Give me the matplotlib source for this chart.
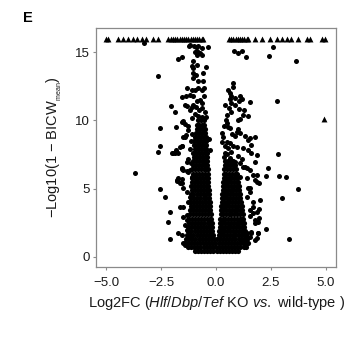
import numpy as np
import matplotlib
matplotlib.use("Agg")
import matplotlib.pyplot as plt

plt.rcParams["font.family"] = ["Liberation Sans", "DejaVu Sans"]
plt.rcParams["mathtext.fontset"] = "custom"
plt.rcParams["mathtext.rm"] = "Liberation Sans"
plt.rcParams["mathtext.it"] = "Liberation Sans:italic"

# capped points (drawn as triangles at the top of the plot)
tri_x = [-5.01, -4.9, -4.45, -4.22, -3.99, -3.76, -3.58, -3.38, -3.2, -2.85, -2.63,
         -2.17, -2.05, -1.95, -1.85, -1.75, -1.65, -1.55, -1.45, -1.35, -1.25, -1.15,
         -1.05, -0.95, -0.85, -0.75, -0.65, -0.58,
         0.61, 0.7, 0.8, 0.9, 1.0, 1.1, 1.2, 1.3, 1.4, 1.47,
         1.78, 2.08, 2.46, 2.76, 2.99, 3.22, 3.44, 3.75, 4.13, 4.28, 4.81, 4.96, 4.93]
tri_y = [16.0] * 50 + [10.09]

# dense core, left lobe: one y per row, x values along the row
left_y = [10.0, 9.7, 9.4, 9.1, 8.8, 8.5, 8.2, 7.9, 7.6, 7.3, 7.0, 6.7, 6.4, 6.1, 5.8,
          5.5, 5.2, 4.9, 4.6, 4.3, 4.0, 3.7, 3.4, 3.1, 2.8, 2.5, 2.2, 1.9, 1.6]
left_x = [
    [-0.82, -0.68, -0.55],
    [-0.88, -0.75, -0.62, -0.52],
    [-0.85, -0.71, -0.57, -0.5],
    [-0.92, -0.78, -0.64, -0.5],
    [-0.95, -0.82, -0.68, -0.55, -0.47],
    [-0.98, -0.85, -0.72, -0.6, -0.46],
    [-1.0, -0.88, -0.76, -0.62, -0.48, -0.44],
    [-0.95, -0.82, -0.68, -0.55, -0.43],
    [-1.02, -0.9, -0.76, -0.62, -0.5, -0.42],
    [-1.0, -0.86, -0.72, -0.58, -0.45, -0.41],
    [-1.05, -0.92, -0.78, -0.65, -0.52, -0.4],
    [-1.04, -0.9, -0.76, -0.62, -0.5, -0.39],
    [-1.08, -0.95, -0.82, -0.68, -0.55, -0.43, -0.38],
    [-1.05, -0.92, -0.78, -0.64, -0.5, -0.37],
    [-1.1, -0.97, -0.84, -0.7, -0.57, -0.44, -0.36],
    [-1.08, -0.94, -0.8, -0.66, -0.52, -0.4, -0.35],
    [-1.12, -0.99, -0.86, -0.72, -0.58, -0.45, -0.34],
    [-1.1, -0.96, -0.82, -0.68, -0.55, -0.42, -0.33],
    [-1.15, -1.02, -0.88, -0.74, -0.6, -0.46, -0.32],
    [-1.12, -0.98, -0.84, -0.7, -0.56, -0.43, -0.3],
    [-1.18, -1.04, -0.9, -0.76, -0.62, -0.48, -0.35, -0.28],
    [-1.15, -1.01, -0.87, -0.73, -0.59, -0.45, -0.32, -0.27],
    [-1.2, -1.06, -0.92, -0.78, -0.64, -0.5, -0.37, -0.25],
    [-1.18, -1.04, -0.9, -0.76, -0.62, -0.48, -0.34, -0.23],
    [-1.24, -1.1, -0.96, -0.82, -0.68, -0.54, -0.4, -0.28, -0.21],
    [-1.22, -1.08, -0.94, -0.8, -0.66, -0.52, -0.38, -0.26, -0.19],
    [-1.27, -1.13, -0.99, -0.85, -0.71, -0.57, -0.43, -0.3, -0.17],
    [-1.25, -1.11, -0.97, -0.83, -0.69, -0.55, -0.41, -0.28, -0.16],
    [-1.3, -1.16, -1.02, -0.88, -0.74, -0.6, -0.46, -0.32, -0.2, -0.12],
]

# dense core, right lobe
right_y = [7.0, 6.7, 6.4, 6.1, 5.8, 5.5, 5.2, 4.9, 4.6, 4.3, 4.0, 3.7, 3.4, 3.1, 2.8,
           2.5, 2.2, 1.9, 1.6]
right_x = [
    [0.42, 0.55, 0.68, 0.8],
    [0.4, 0.52, 0.65, 0.78, 0.86],
    [0.38, 0.5, 0.63, 0.76, 0.9],
    [0.37, 0.48, 0.6, 0.73, 0.86, 0.95],
    [0.35, 0.46, 0.58, 0.71, 0.84, 0.98],
    [0.33, 0.45, 0.57, 0.7, 0.83, 0.96, 1.02],
    [0.32, 0.43, 0.55, 0.68, 0.81, 0.94, 1.05],
    [0.31, 0.42, 0.54, 0.67, 0.8, 0.93, 1.06],
    [0.29, 0.4, 0.52, 0.65, 0.78, 0.91, 1.04, 1.1],
    [0.28, 0.39, 0.51, 0.64, 0.77, 0.9, 1.03, 1.12],
    [0.26, 0.37, 0.49, 0.62, 0.75, 0.88, 1.01, 1.14],
    [0.25, 0.36, 0.48, 0.61, 0.74, 0.87, 1.0, 1.13, 1.17],
    [0.23, 0.34, 0.46, 0.59, 0.72, 0.85, 0.98, 1.11, 1.2],
    [0.22, 0.33, 0.45, 0.58, 0.71, 0.84, 0.97, 1.1, 1.22],
    [0.2, 0.31, 0.43, 0.56, 0.69, 0.82, 0.95, 1.08, 1.21, 1.25],
    [0.19, 0.3, 0.42, 0.55, 0.68, 0.81, 0.94, 1.07, 1.2, 1.28],
    [0.17, 0.28, 0.4, 0.53, 0.66, 0.79, 0.92, 1.05, 1.18, 1.3],
    [0.16, 0.27, 0.39, 0.52, 0.65, 0.78, 0.91, 1.04, 1.17, 1.3, 1.34],
    [0.13, 0.25, 0.37, 0.5, 0.63, 0.76, 0.89, 1.02, 1.15, 1.28, 1.36],
]

# dense core, base
base_y = [1.3, 1.0, 0.7, 0.45]
base_x = [
    [-1.35, -1.21, -1.07, -0.93, -0.79, -0.65, -0.51, -0.37, -0.23, -0.09, 0.05, 0.19,
     0.33, 0.47, 0.61, 0.75, 0.89, 1.03, 1.17, 1.31, 1.4],
    [-1.4, -1.27, -1.14, -1.0, -0.86, -0.72, -0.58, -0.44, -0.3, -0.16, -0.02, 0.12,
     0.26, 0.4, 0.54, 0.68, 0.82, 0.96, 1.1, 1.24, 1.38, 1.45],
    [-1.25, -1.12, -0.98, -0.84, -0.7, -0.56, -0.42, -0.28, -0.14, 0.0, 0.14, 0.28,
     0.42, 0.56, 0.7, 0.84, 0.98, 1.12, 1.26, 1.35],
    [-0.95, -0.81, -0.67, -0.53, -0.39, -0.25, -0.11, 0.03, 0.17, 0.31, 0.45, 0.59,
     0.73, 0.87, 1.0],
]

# scattered genes around the core
dots_x = [
    -3.26, -2.62, -3.66, -2.55, -2.55, -2.65, -2.55, -2.31, -2.09, -2.17, -2.09, -2.02,
    -1.87, -1.82, -1.99, -1.85, -1.56, -1.41, -1.72, -1.52, -1.49, -1.26,
    -1.82, -1.94, -1.72, -1.64, -1.52, -1.37, -1.49, -1.52, -1.41, -1.33, -1.1, -1.52,
    -1.33, -1.18, -1.72, -1.52, -1.56, -1.26, -1.49, -1.33, -1.1, -1.76, -1.64, -1.79,
    -1.56, -1.49, -1.33, -1.18, -1.64, -1.49, -1.49, -1.33, -1.41, -1.33, -1.33, -1.72,
    -1.56, -1.49, -1.41, -1.18, -1.26, -1.1,
    -1.18, -1.22, -0.99, -0.91, -0.8, -0.88, -0.65, -0.38, -0.96, -0.73, -0.88, -0.62,
    -1.06, -1.1, -1.03, -0.88, -1.06, -0.91, -0.46, -0.58, -1.03, -0.8, -0.58, -1.3,
    -1.1, -0.96, -0.8, -0.65, -0.55, -1.36, -1.52, -1.18, -1.03, -0.73, -0.65, -1.41,
    -1.03, -0.9, -0.78, -0.62, -0.5, -0.95, -0.8, -0.65, -0.55, -0.85, -1.2, -1.1,
    -0.45, -1.25, -1.1, -1.15, -1.2, -1.25, -1.15, -0.3, -0.28,
    0.82, 0.99, 1.21, 1.37, 2.43, 2.61, 3.63, 2.76, 0.76, 0.79, 0.71, 0.64, 0.86, 1.09,
    1.17, 0.41, 0.71, 0.86, 1.55, 1.06, 0.49, 0.71, 1.06, 1.25, 1.47, 1.02, 1.29, 1.09,
    0.49, 0.56, 0.64, 0.26, 0.33, 0.94, 1.09, 1.32, 1.02, 0.86, 1.55, 1.78, 1.62, 1.47,
    0.49, 0.64, 0.79, 0.94, 1.25, 1.47, 1.62, 1.78, 0.41, 0.64, 0.86, 1.09, 1.32, 1.55,
    1.7, 1.09, 1.4, 1.86, 1.86,
    2.84, 2.38, 2.28, 2.87, 3.17, 3.75, 3.02, 3.31, 2.28, 2.0, 1.97, 1.97, 1.78, 1.9,
    1.86, 1.86, 1.97, 1.78, 1.4, 1.25, 1.55, 1.4, 1.7, 1.7, 1.55, 1.4, 1.55, 1.25,
    1.55, 1.7, 1.86, 1.93, 1.62, 1.4, 1.78, 1.62, 1.93, 1.78, 1.55, 1.47,
    0.35, 0.5, 0.7, 0.55, 0.4, 1.0, 1.2, 0.35, 0.45, 0.58, 0.3, 0.72, 0.55, 0.65,
]
dots_y = [
    15.67, 13.27, 6.17, 9.45, 8.13, 7.71, 4.95, 4.41, 3.3, 2.57, 1.28, 11.08,
    10.6, 9.5, 7.59, 7.59, 8.13, 8.77, 14.49, 14.66, 9.96, 9.6,
    7.83, 7.64, 7.59, 8.08, 8.13, 8.94, 8.77, 9.91, 9.74, 11.06, 10.97, 6.42,
    6.31, 6.37, 5.76, 5.68, 6.49, 6.24, 6.37, 6.98, 5.87, 5.58, 5.39, 5.63,
    5.39, 5.02, 4.77, 4.41, 3.67, 3.67, 2.94, 2.69, 2.33, 3.06, 1.96, 1.72,
    1.59, 0.98, 0.86, 1.35, 4.04, 3.55,
    15.54, 15.45, 15.45, 15.42, 15.47, 15.13, 15.32, 15.37, 15.05, 14.93, 14.83, 14.83,
    14.35, 13.98, 13.86, 14.1, 13.49, 13.37, 13.91, 13.49, 13.12, 12.88, 12.88, 12.39,
    12.26, 12.26, 12.39, 12.26, 12.39, 11.78, 11.7, 11.9, 11.78, 11.53, 11.28, 11.11,
    11.16, 11.0, 10.8, 10.9, 10.6, 10.5, 10.35, 10.25, 11.8, 11.4, 10.8, 10.2,
    10.25, 9.3, 9.0, 8.5, 7.9, 7.2, 6.9, 8.6, 7.8,
    15.08, 14.96, 15.13, 14.64, 14.74, 15.37, 14.39, 11.45, 12.75, 12.44, 11.78, 11.58,
    11.65, 11.78, 11.58, 11.11, 11.28, 11.16, 11.36, 11.43, 10.4, 10.65, 10.82, 10.4,
    10.33, 10.04, 10.77, 10.09, 9.79, 9.54, 9.42, 9.11, 8.81, 9.18, 9.06, 8.86, 9.35,
    8.86, 8.69, 8.77, 8.2, 8.57, 8.44, 8.33, 8.13, 8.08, 7.96, 7.83, 7.59, 6.98, 7.59,
    7.22, 6.98, 6.86, 6.61, 6.37, 6.0, 5.87, 5.76, 6.0, 7.47,
    7.54, 6.54, 5.93, 5.95, 5.83, 4.95, 4.33, 1.3, 2.03, 4.16, 3.5, 2.86, 2.7, 1.76,
    1.35, 5.51, 5.39, 5.63, 6.49, 6.61, 5.02, 4.41, 3.67, 3.19, 2.99, 1.72, 1.47, 1.23,
    4.77, 4.04, 3.3, 2.57, 1.84, 1.35, 2.45, 1.72, 1.72, 1.23, 3.43, 5.02,
    7.3, 7.5, 7.7, 8.0, 8.1, 7.4, 7.2, 9.6, 10.0, 10.9, 8.4, 9.0, 12.2, 12.0,
]

core_x, core_y = [], []
for ys, xs in [(left_y, left_x), (right_y, right_x), (base_y, base_x)]:
    for yv, row in zip(ys, xs):
        core_x += row
        core_y += [yv] * len(row)

fig = plt.figure(figsize=(3.56, 3.38), dpi=100)
ax = fig.add_axes([0.27, 0.21, 0.674, 0.707])

ax.scatter(core_x, core_y, s=14, c="black", linewidths=0)
ax.scatter(dots_x, dots_y, s=13, c="black", linewidths=0)
ax.scatter(tri_x, tri_y, s=18, c="black", marker="^", linewidths=0)

ax.set_xlim(-5.45, 5.47)
ax.set_ylim(-0.76, 16.78)
ax.set_xticks([-5, -2.5, 0, 2.5, 5])
ax.set_xticklabels(["\u22125.0", "\u22122.5", "0.0", "2.5", "5.0"])
ax.set_yticks([0, 5, 10, 15])

for sp in ax.spines.values():
    sp.set_color("#8a8a8a")
    sp.set_linewidth(0.9)
ax.tick_params(colors="#8a8a8a", labelcolor="#1a1a1a", labelsize=9.5,
               length=2.5, width=0.8, pad=2)
ax.tick_params(axis="x", pad=5)

ax.set_xlabel(r"Log2FC ($\mathit{Hlf/Dbp/Tef}$ KO $\mathit{vs.}$ wild-type )",
              fontsize=10.5, color="#1a1a1a", labelpad=3)
ax.set_ylabel("\u2212Log10(1 \u2212 BICW$_{_{\\mathrm{mean}}}$)",
              fontsize=10.5, color="#1a1a1a", labelpad=8)

fig.text(0.065, 0.947, "E", fontsize=10.5, fontweight="bold", ha="left", va="center")

fig.savefig("out.png", dpi=100)
